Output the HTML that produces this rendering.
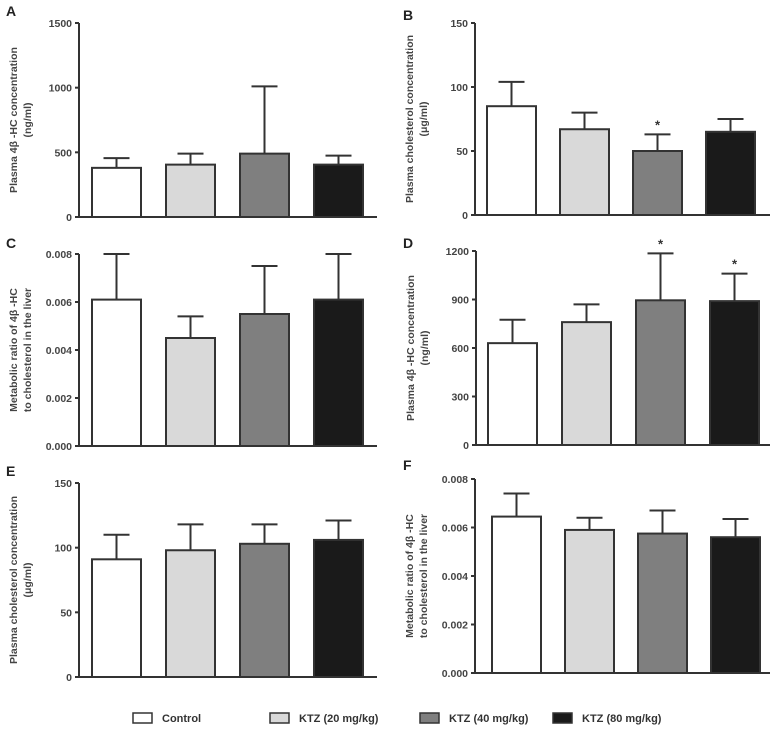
<!DOCTYPE html>
<html><head><meta charset="utf-8"><style>
body{margin:0;background:#fff;}
svg{display:block;font-family:"Liberation Sans",Arial,sans-serif;}
</style></head><body>
<svg id="fig" width="781" height="748" viewBox="0 0 781 748"></svg>
<script>
const groups = ["Control","KTZ (20 mg/kg)","KTZ (40 mg/kg)","KTZ (80 mg/kg)"];
const fills = ["#ffffff","#d9d9d9","#7f7f7f","#1a1a1a"];
const aMeans = [380,405,490,405];
const aErrs = [75,85,520,70];
const aTicks = ["0","500","1000","1500"];
const bMeans = [85,67,50,65];
const bErrs = [19,13,13,10];
const bTicks = ["0","50","100","150"];
const bStars = [false,false,true,false];
const cMeans = [0.0061,0.0045,0.0055,0.0061];
const cErrs = [0.0019,0.0009,0.002,0.0019];
const cTicks = ["0.000","0.002","0.004","0.006","0.008"];
const dMeans = [630,760,895,890];
const dErrs = [145,110,290,170];
const dTicks = ["0","300","600","900","1200"];
const dStars = [false,false,true,true];
const eMeans = [91,98,103,106];
const eErrs = [19,20,15,15];
const eTicks = ["0","50","100","150"];
const fMeans = [0.00645,0.0059,0.00575,0.0056];
const fErrs = [0.00095,0.0005,0.00095,0.00075];
const fTicks = ["0.000","0.002","0.004","0.006","0.008"];

const NS="http://www.w3.org/2000/svg";
const svg=document.getElementById('fig');
function mk(t,a,p){const e=document.createElementNS(NS,t);for(const k in a)e.setAttribute(k,a[k]);(p||svg).appendChild(e);return e;}

function panel(id,letter,lx,ly,ax,yTop,yBot,xEnd,bar0,step,ticks,means,errs,stars,labels){
  const g=mk('g',{});
  
  
  const max=parseFloat(ticks[ticks.length-1]);
  const y=v=>yBot-(v/max)*(yBot-yTop);
  const L=mk('text',{x:lx,y:ly,'font-size':14,'font-weight':'bold',fill:'#222'},g);L.textContent=letter;
  
  const ya=mk('line',{x1:ax,y1:yTop,x2:ax,y2:yBot,stroke:'#333','stroke-width':2},g);
  
  const xa=mk('line',{x1:ax,y1:yBot,x2:xEnd,y2:yBot,stroke:'#333','stroke-width':2},g);
  
  ticks.forEach(t=>{const v=parseFloat(t),yy=y(v);
    mk('line',{x1:ax-4,y1:yy,x2:ax,y2:yy,stroke:'#333','stroke-width':2},g);
    const tx=mk('text',{x:ax-7,y:yy+4,'font-size':10.5,'font-weight':'bold',fill:'#444','text-anchor':'end'},g);tx.textContent=t;
    });
  means.forEach((m,i)=>{const x0=bar0+i*step,w=49,cx=x0+w/2,top=y(m),et=y(m+errs[i]);
    mk('line',{x1:cx,y1:top,x2:cx,y2:et,stroke:'#333','stroke-width':2},g);
    mk('line',{x1:cx-13,y1:et,x2:cx+13,y2:et,stroke:'#333','stroke-width':2},g);
    const r=mk('rect',{x:x0,y:top,width:w,height:yBot-top,fill:fills[i],stroke:'#333','stroke-width':2},g);
    
    if(stars&&stars[i]){const s=mk('text',{x:cx,y:et-5,'font-size':13,'font-weight':'bold',fill:'#333','text-anchor':'middle'},g);s.textContent='*';
      }
  });
  const cy=(yTop+yBot)/2;
  labels.forEach((t,k)=>{const lxp=ax-62+(labels.length===1?8:k*14);
    const tt=mk('text',{x:lxp,y:cy,'font-size':10.5,'font-weight':'bold',fill:'#444','text-anchor':'middle',transform:`rotate(-90 ${lxp} ${cy})`},g);tt.textContent=t;
    });
}
panel('a','A',6,16,79,23,217,377,92,74,aTicks,aMeans,aErrs,null,["Plasma 4β -HC concentration","(ng/ml)"]);
panel('b','B',403,20,475,23,215,770,487,73,bTicks,bMeans,bErrs,bStars,["Plasma cholesterol concentration","(μg/ml)"]);
panel('c','C',6,248,79,254,446,377,92,74,cTicks,cMeans,cErrs,null,["Metabolic ratio of 4β -HC","to cholesterol in the liver"]);
panel('d','D',403,248,476,251,445,770,488,74,dTicks,dMeans,dErrs,dStars,["Plasma 4β -HC concentration","(ng/ml)"]);
panel('e','E',6,476,79,483,677,377,92,74,eTicks,eMeans,eErrs,null,["Plasma cholesterol concentration","(μg/ml)"]);
panel('f','F',403,470,475,479,673,770,492,73,fTicks,fMeans,fErrs,null,["Metabolic ratio of 4β -HC","to cholesterol in the liver"]);

const legX=[133,270,420,553];
groups.forEach((gname,i)=>{const g=mk('g',{});
  
  mk('rect',{x:legX[i],y:713,width:19,height:10,fill:fills[i],stroke:'#333','stroke-width':1.5},g);
  const t=mk('text',{x:legX[i]+29,y:722,'font-size':11,'font-weight':'bold',fill:'#333'},g);t.textContent=gname;});
</script>
</body></html>
